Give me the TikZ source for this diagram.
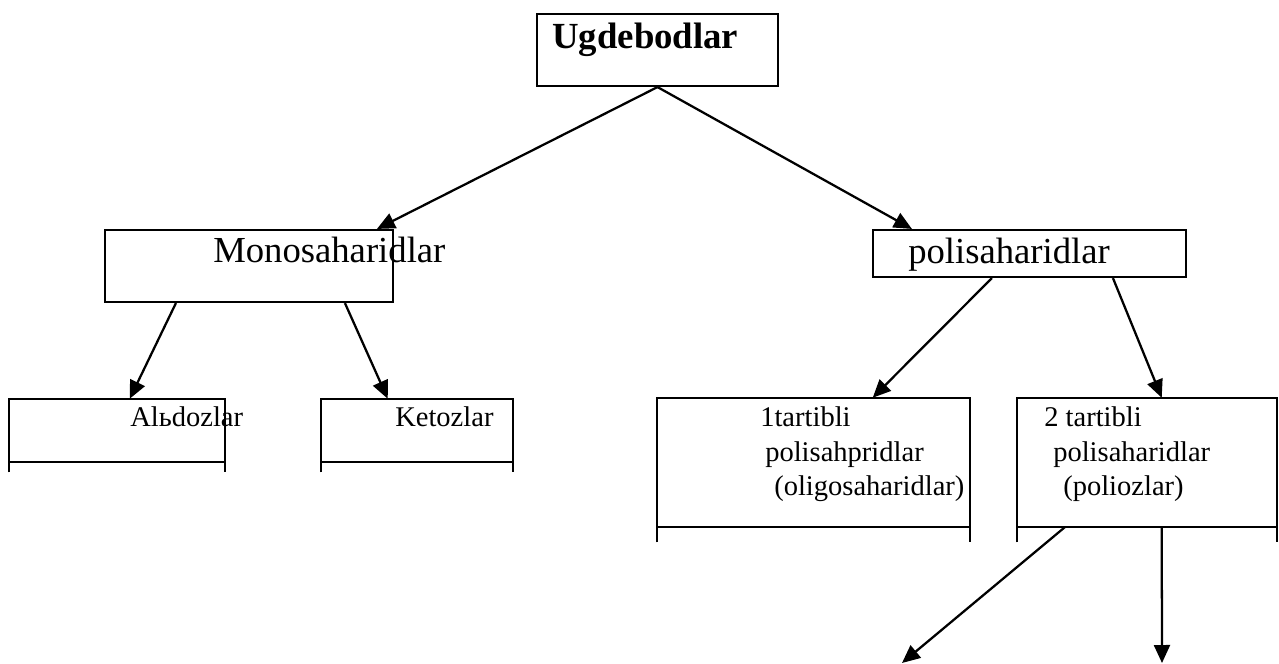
\documentclass[tikz,border=0pt]{standalone}
\usepackage{fontspec}
\setmainfont{Liberation Serif}
\usetikzlibrary{arrows.meta,calc}
\tikzset{
  box/.style={draw,line width=1.6pt,inner sep=0pt,rectangle},
  openbox/.style={inner sep=0pt,rectangle},
  edge/.style={line width=1.6pt},
  conn/.style={line width=1.7pt,-{Triangle[length=13.5pt,width=12pt]}},
  big/.style={anchor=base west,inner sep=0pt,font=\fontsize{27.5}{33}\selectfont},
  bigb/.style={anchor=base west,inner sep=0pt,font=\fontsize{27.6}{33}\selectfont\bfseries},
  small/.style={anchor=base west,inner sep=0pt,font=\fontsize{21.4}{25.5}\selectfont},
}
\begin{document}
\begin{tikzpicture}[x=0.75pt,y=-0.75pt]
\useasboundingbox (0,0) rectangle (1279,664);
% boxes
\node[box,minimum width=241*0.75pt,minimum height=72*0.75pt] (top) at (657.5,50) {};
\node[box,minimum width=288*0.75pt,minimum height=72*0.75pt] (mono) at (249,266) {};
\node[box,minimum width=313*0.75pt,minimum height=47*0.75pt] (poli) at (1029.5,253.5) {};
\node[openbox,minimum width=216*0.75pt,minimum height=73*0.75pt] (ald) at (117,435.5) {};
\node[openbox,minimum width=192*0.75pt,minimum height=73*0.75pt] (ket) at (417,435.5) {};
\node[openbox,minimum width=313*0.75pt,minimum height=144*0.75pt] (oa) at (813.5,470) {};
\node[openbox,minimum width=260*0.75pt,minimum height=144*0.75pt] (ob) at (1147,470) {};
% open boxes outlines
\foreach \n/\h in {ald/10,ket/10,oa/15,ob/15}{
  \draw[edge] (\n.south west) -- (\n.north west) -- (\n.north east) -- (\n.south east);
  \draw[edge] ($(\n.south west)+(0,-\h)$) -- ($(\n.south east)+(0,-\h)$);
}
% texts
\node[bigb] (t0) at (552,48) {Ugdebodlar};
\node[big] (t1) at (213,262) {Monosaharidlar};
\node[big] (t2) at (908,263) {polisaharidlar};
\node[small] (t3) at (130,426) {Alьdozlar};
\node[small] (t4) at (395,426) {Ketozlar};
\node[small] (t5) at (760,426) {1tartibli};
\node[small] (t6) at (765,461) {polisahpridlar};
\node[small] (t7) at (774,495) {(oligosaharidlar)};
\node[small] (t8) at (1044,426) {2 tartibli};
\node[small] (t9) at (1053,461) {polisaharidlar};
\node[small] (t10) at (1063,495) {(poliozlar)};
% free ends
\coordinate (e1) at (902,663);
\coordinate (e2) at (1162,663);
% connectors
\draw[conn] (top.south) -- ($(mono.north west)+(273,0)$);
\draw[conn] (top.south) -- ($(poli.north west)+(40,0)$);
\draw[conn] ($(mono.south west)+(72,0)$) -- ($(ald.north west)+(121,0)$);
\draw[conn] ($(mono.south west)+(241,0)$) -- ($(ket.north west)+(67,0)$);
\draw[conn] ($(poli.south west)+(120,0)$) -- ($(oa.north west)+(216,0)$);
\draw[conn] ($(poli.south west)+(241,0)$) -- ($(ob.north west)+(145,0)$);
\draw[conn] ($(ob.south west)+(48,-15)$) -- (e1);
\draw[conn] ($(ob.south west)+(145,-15)$) -- (e2);
\end{tikzpicture}
\end{document}
